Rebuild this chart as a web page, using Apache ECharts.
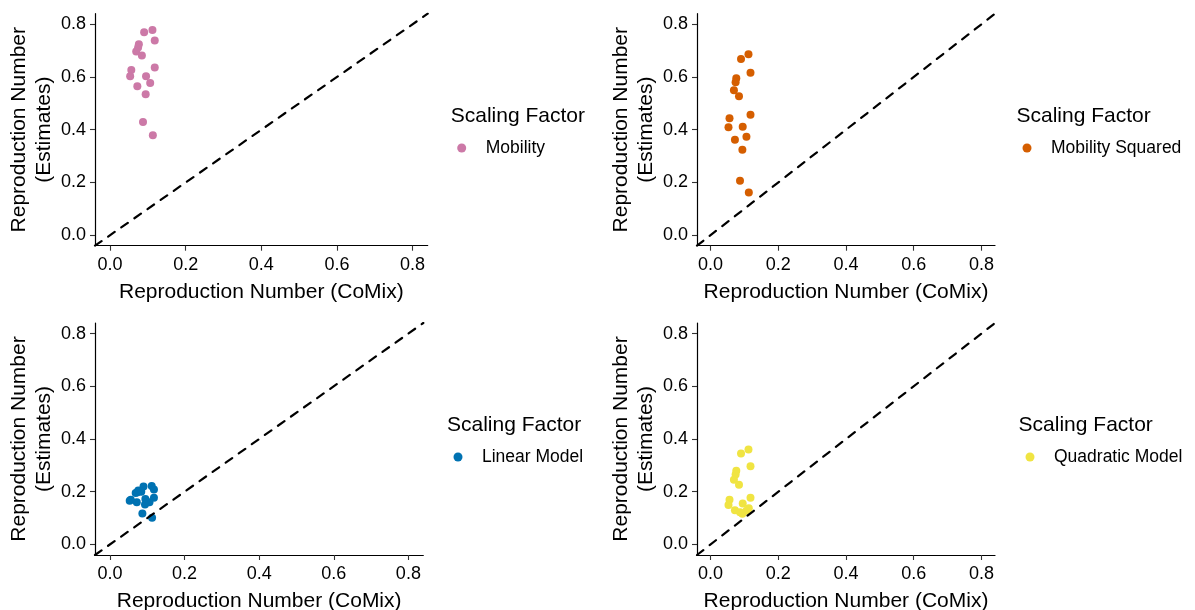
<!DOCTYPE html>
<html>
<head>
<meta charset="utf-8">
<script src="https://cdn.jsdelivr.net/npm/echarts@6/dist/echarts.min.js"></script>
<style>
html,body{margin:0;padding:0;background:#fff;}
#chart{width:1195px;height:610px;}
</style>
</head>
<body>
<div id="chart"></div>
<script>
// CoMix reproduction numbers (x), shared across panels
const comix = [0.112, 0.090, 0.118, 0.076, 0.074, 0.069, 0.084, 0.118, 0.056, 0.053, 0.095, 0.106, 0.072, 0.094, 0.087, 0.113];
// Estimated reproduction numbers per scaling factor
const mobility        = [0.778, 0.770, 0.738, 0.724, 0.712, 0.697, 0.681, 0.636, 0.626, 0.603, 0.603, 0.577, 0.565, 0.534, 0.429, 0.379];
const mobilitySquared = [0.686, 0.668, 0.616, 0.595, 0.580, 0.550, 0.527, 0.457, 0.443, 0.409, 0.411, 0.373, 0.362, 0.324, 0.206, 0.162];
const linearModel     = [0.222, 0.220, 0.208, 0.205, 0.198, 0.195, 0.200, 0.177, 0.170, 0.166, 0.172, 0.160, 0.160, 0.152, 0.117, 0.101];
const quadraticModel  = [0.360, 0.345, 0.297, 0.280, 0.265, 0.245, 0.226, 0.177, 0.170, 0.150, 0.155, 0.128, 0.130, 0.116, 0.122, 0.137];

const seriesNames = ['Mobility', 'Mobility Squared', 'Linear Model', 'Quadratic Model'];
const seriesValues = [mobility, mobilitySquared, linearModel, quadraticModel];
const colors = ['#CC79A7', '#D55E00', '#0072B2', '#F0E442'];
const tickValues = [0.0, 0.2, 0.4, 0.6, 0.8];
const axisMin = -0.04, axisMax = 0.84;
const legendTitle = 'Scaling Factor';
const xTitle = 'Reproduction Number (CoMix)';
const yTitle = 'Reproduction Number\n(Estimates)';

const FONT = 'Liberation Sans, Arial, sans-serif';
const grids = [
  {left: 95,  top: 13.7,  width: 332.7, height: 232, outerBoundsMode: 'none', containLabel: false},
  {left: 697, top: 13.7,  width: 298,   height: 232, outerBoundsMode: 'none', containLabel: false},
  {left: 95,  top: 323,   width: 328.3, height: 232, outerBoundsMode: 'none', containLabel: false},
  {left: 697, top: 323,   width: 298,   height: 232, outerBoundsMode: 'none', containLabel: false}
];
const legendPos = [
  {title: [450.7, 104], dot: [457.2, 138]},
  {title: [1016.5, 104], dot: [1022.5, 138]},
  {title: [447, 413], dot: [453.5, 447]},
  {title: [1018.6, 413], dot: [1025.5, 447]}
];

function axisCommon(isX) {
  return {
    type: 'value', min: axisMin, max: axisMax,
    splitLine: {show: false},
    axisLine: {show: true, onZero: false, lineStyle: {color: '#000', width: 1.2}},
    axisTick: {show: true, length: 5, lineStyle: {color: '#333', width: 1.1},
      customValues: tickValues},
    axisLabel: {color: '#000', fontSize: 18, fontFamily: FONT, margin: isX ? 10 : 9,
      customValues: tickValues, formatter: v => v.toFixed(1)},
    nameLocation: 'middle',
    nameTextStyle: {color: '#000', fontSize: 21, fontFamily: FONT, lineHeight: isX ? 27 : 25}
  };
}

const xAxes = [], yAxes = [], series = [], titles = [], legends = [];
for (let i = 0; i < 4; i++) {
  xAxes.push(Object.assign(axisCommon(true), {gridIndex: i, name: xTitle, nameGap: 33}));
  yAxes.push(Object.assign(axisCommon(false), {gridIndex: i, name: yTitle, nameGap: 36, nameRotate: 90}));
  series.push({
    type: 'scatter', name: seriesNames[i], xAxisIndex: i, yAxisIndex: i,
    symbol: 'circle', symbolSize: 8,
    itemStyle: {color: colors[i], opacity: 1},
    data: comix.map((x, k) => [x, seriesValues[i][k]]),
    z: 2
  });
  series.push({
    type: 'line', name: 'identity' + i, xAxisIndex: i, yAxisIndex: i,
    data: [[axisMin, axisMin], [axisMax, axisMax]],
    symbol: 'none', clip: true, silent: true,
    lineStyle: {color: '#000', width: 2.2, type: [8, 8], cap: 'round'},
    z: 3
  });
  titles.push({
    text: legendTitle, left: legendPos[i].title[0], top: legendPos[i].title[1],
    padding: 0,
    textStyle: {fontSize: 21, fontWeight: 'normal', color: '#000', fontFamily: FONT, lineHeight: 24}
  });
  legends.push({
    data: [seriesNames[i]], left: legendPos[i].dot[0], top: legendPos[i].dot[1],
    padding: 0, icon: 'circle', itemWidth: 9, itemHeight: 9,
    selectedMode: false,
    textStyle: {fontSize: 17.5, color: '#000', fontFamily: FONT, padding: [0, 0, 0, 14.5], lineHeight: 20}
  });
}

const chart = echarts.init(document.getElementById('chart'), null, {renderer: 'canvas'});
chart.setOption({
  backgroundColor: '#fff',
  animation: false,
  title: titles,
  legend: legends,
  grid: grids,
  xAxis: xAxes,
  yAxis: yAxes,
  series: series
});
</script>
</body>
</html>
